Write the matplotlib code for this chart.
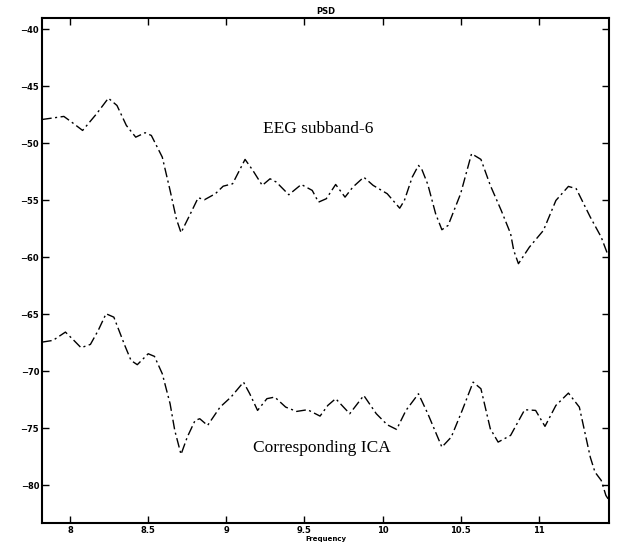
import numpy as np
import matplotlib
matplotlib.use('Agg')
import matplotlib.pyplot as plt

# valores (frecuencia, PSD)
freq_eeg = [7.82, 7.96, 8.01, 8.08, 8.17, 8.245, 8.30, 8.36, 8.42, 8.48, 8.52, 8.59,
            8.64, 8.68, 8.71, 8.77, 8.82, 8.86, 8.93, 8.98, 9.04, 9.12, 9.17, 9.23,
            9.28, 9.32, 9.40, 9.48, 9.55, 9.59, 9.64, 9.70, 9.76, 9.81, 9.88, 9.94,
            10.03, 10.11, 10.14, 10.19, 10.23, 10.25, 10.29, 10.34, 10.38, 10.42,
            10.50, 10.57, 10.63, 10.69, 10.76, 10.82, 10.84, 10.87, 10.94, 11.03,
            11.11, 11.19, 11.24, 11.33, 11.40, 11.44]
psd_eeg = [-47.9, -47.63, -48.13, -48.86, -47.39, -46.03, -46.67, -48.42, -49.45,
           -49.06, -49.30, -51.20, -54.12, -56.61, -57.83, -56.17, -54.76, -54.94,
           -54.41, -53.75, -53.54, -51.40, -52.37, -53.68, -53.10, -53.39, -54.50,
           -53.60, -54.12, -55.15, -54.85, -53.60, -54.71, -53.83, -52.96, -53.68,
           -54.41, -55.68, -55.0, -52.96, -51.93, -52.22, -53.60, -56.17, -57.57,
           -57.19, -54.41, -50.90, -51.40, -53.68, -55.88, -57.92, -59.39, -60.55,
           -59.10, -57.63, -55.0, -53.77, -53.97, -56.46, -58.22, -59.68]

freq_ica = [7.82, 7.89, 7.97, 8.02, 8.07, 8.13, 8.18, 8.23, 8.28, 8.35, 8.39, 8.43,
            8.50, 8.54, 8.59, 8.64, 8.67, 8.71, 8.75, 8.80, 8.83, 8.88, 8.96, 9.03,
            9.11, 9.15, 9.20, 9.26, 9.31, 9.38, 9.45, 9.52, 9.60, 9.65, 9.70, 9.79,
            9.88, 9.96, 10.03, 10.09, 10.15, 10.23, 10.29, 10.38, 10.44, 10.51,
            10.58, 10.63, 10.69, 10.74, 10.82, 10.91, 10.98, 11.04, 11.11, 11.19,
            11.26, 11.33, 11.36, 11.40, 11.43, 11.45]
psd_ica = [-67.43, -67.28, -66.55, -67.22, -67.92, -67.63, -66.40, -64.94, -65.24,
           -67.72, -69.04, -69.41, -68.45, -68.68, -70.20, -72.83, -75.18, -77.28,
           -75.76, -74.30, -74.15, -74.74, -73.13, -72.25, -70.94, -71.96, -73.42,
           -72.39, -72.25, -73.13, -73.51, -73.36, -73.92, -72.98, -72.39, -73.71,
           -72.11, -73.71, -74.68, -75.09, -73.42, -71.96, -73.71, -76.64, -75.76,
           -73.42, -70.94, -71.52, -75.03, -76.20, -75.61, -73.36, -73.42, -74.82,
           -72.98, -71.90, -73.13, -77.52, -78.83, -79.56, -80.88, -81.3]

xticks = [8, 8.5, 9, 9.5, 10, 10.5, 11]
xticklabels = ['8', '8.5', '9', '9.5', '10', '10.5', '11']
yticks = [-40, -45, -50, -55, -60, -65, -70, -75, -80]

fig = plt.figure(figsize=(6.24, 5.42), dpi=100)
ax = fig.add_axes([0.0673, 0.035, 0.9087, 0.9317])

# estilo dash-dot tipo matlab
estilo = (0, (7, 2.5, 1.5, 2.5))
ax.plot(freq_eeg, psd_eeg, color='black', linestyle=estilo, linewidth=1.0)
ax.plot(freq_ica, psd_ica, color='black', linestyle=estilo, linewidth=1.0)

ax.set_xlim(7.82, 11.45)
ax.set_ylim(-83.3, -39.0)
ax.set_xticks(xticks)
ax.set_xticklabels(xticklabels)
ax.set_yticks(yticks)
ax.tick_params(direction='in', length=5, width=1, labelsize=6,
               top=True, right=True, pad=2)
for lab in ax.get_xticklabels() + ax.get_yticklabels():
    lab.set_fontweight('bold')
for s in ax.spines.values():
    s.set_linewidth(1.5)

ax.text(9.59, -48.77, 'EEG subband-6', family='Liberation Serif',
        fontsize=12.5, ha='center', va='center')
ax.text(9.61, -76.75, 'Corresponding ICA', family='Liberation Serif',
        fontsize=12.5, ha='center', va='center')

ax.set_title('PSD', fontsize=6, fontweight='bold', pad=3)
ax.set_xlabel('Frequency', fontsize=5, fontweight='bold', labelpad=1)

plt.savefig('out.png', dpi=100)
plt.close()
